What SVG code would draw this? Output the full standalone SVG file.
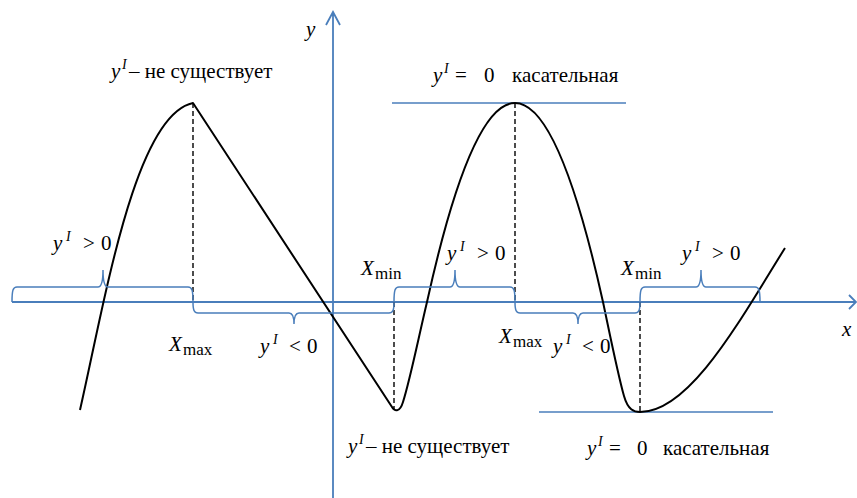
<svg xmlns="http://www.w3.org/2000/svg" width="857" height="498" viewBox="0 0 857 498">
<style>
.ax{stroke:#4a7ebb;stroke-width:1.8;fill:none}
.bl{stroke:#4a7ebb;stroke-width:1.5;fill:none}
.cv{stroke:#000;stroke-width:2;fill:none;stroke-linejoin:round}
.ds{stroke:#000;stroke-width:1.4;stroke-dasharray:5,3;fill:none}
text{font-family:"Liberation Serif","Times New Roman",serif;fill:#000}
.m{font-size:21px;font-style:italic}
.r{font-size:21px}
.sup{font-size:14px;font-style:italic}
.sub{font-size:17px}
.t{font-size:21px}
</style>
<rect width="857" height="498" fill="#fff"/>
<g id="axes">
<path class="ax" d="M12,302 H856 M849,295 L856,302 L849,309"/>
<path class="ax" d="M333,498 V12 M326,25 L333,12 L340,25"/>
<text class="m" x="306" y="36">y</text>
<text class="m" x="842" y="336">x</text>
</g>
<g id="tangents">
<path class="bl" d="M392,103 H626"/>
<path class="bl" d="M539,412 H773"/>
</g>
<g id="dashes">
<path class="ds" d="M193,103 V302 M394,302 V410 M515,103 V302 M640,302 V412"/>
</g>
<g id="curve">
<path class="cv" d="M80,410 C105,300 135,115 193,103 L392,407 C395,412 400,412 403,402 C410,380 418,340 427,302 Q515,-96 603,302 C610,335 618,375 624,396 C628,410 634,412 640,412 C690,412 740,320 785,248"/>
</g>
<g id="braces">
<path class="bl" d="M12,302 C12,290 13,287 17,287 L98,287 Q103,287 103,270 Q103,287 108,287 L188,287 C192,287 193,290 193,302"/>
<path class="bl" d="M193,302 C193,310 194,313 198,313 L289,313 Q294,313 294,324 Q294,313 299,313 L389,313 C393,313 394,310 394,302"/>
<path class="bl" d="M394,302 C394,290 395,287 399,287 L450,287 Q455,287 455,270 Q455,287 460,287 L510,287 C514,287 515,290 515,302"/>
<path class="bl" d="M515,302 C515,310 516,313 520,313 L573,313 Q578,313 578,324 Q578,313 583,313 L635,313 C639,313 640,310 640,302"/>
<path class="bl" d="M640,302 C640,290 641,287 645,287 L696,287 Q701,287 701,270 Q701,287 706,287 L755,287 C759,287 760,290 760,302"/>
</g>
<g id="label-top-left">
<text class="m" x="111" y="78">y</text><text class="sup" x="122" y="69">I</text><text class="t" x="129" y="78">– не существует</text>
</g>
<g id="label-top-right">
<text class="m" x="433" y="82">y</text><text class="sup" x="444" y="73">I</text><text class="r" x="455" y="82">=</text><text class="r" x="484" y="82">0</text><text class="t" x="512" y="82">касательная</text>
</g>
<g id="label-bottom-left">
<text class="m" x="348" y="453">y</text><text class="sup" x="359" y="444">I</text><text class="t" x="366" y="453">– не существует</text>
</g>
<g id="label-bottom-right">
<text class="m" x="587" y="455">y</text><text class="sup" x="598" y="446">I</text><text class="r" x="609" y="455">=</text><text class="r" x="637" y="455">0</text><text class="t" x="663" y="455">касательная</text>
</g>
<g id="sign-1">
<text class="m" x="53" y="250">y</text><text class="sup" x="66" y="241">I</text><text class="r" x="83" y="250">&gt;</text><text class="r" x="101" y="250">0</text>
</g>
<g id="sign-2">
<text class="m" x="260" y="353">y</text><text class="sup" x="273" y="344">I</text><text class="r" x="289" y="353">&lt;</text><text class="r" x="307" y="353">0</text>
</g>
<g id="sign-3">
<text class="m" x="447" y="260">y</text><text class="sup" x="460" y="251">I</text><text class="r" x="477" y="260">&gt;</text><text class="r" x="495" y="260">0</text>
</g>
<g id="sign-4">
<text class="m" x="553" y="353">y</text><text class="sup" x="566" y="344">I</text><text class="r" x="582" y="353">&lt;</text><text class="r" x="600" y="353">0</text>
</g>
<g id="sign-5">
<text class="m" x="682" y="260">y</text><text class="sup" x="695" y="251">I</text><text class="r" x="712" y="260">&gt;</text><text class="r" x="730" y="260">0</text>
</g>
<g id="xmax-1">
<text class="m" x="169" y="351">X</text><text class="sub" x="183" y="355">max</text>
</g>
<g id="xmin-1">
<text class="m" x="361" y="275">X</text><text class="sub" x="375" y="279">min</text>
</g>
<g id="xmax-2">
<text class="m" x="499" y="343">X</text><text class="sub" x="513" y="347">max</text>
</g>
<g id="xmin-2">
<text class="m" x="621" y="275">X</text><text class="sub" x="635" y="279">min</text>
</g>
</svg>
